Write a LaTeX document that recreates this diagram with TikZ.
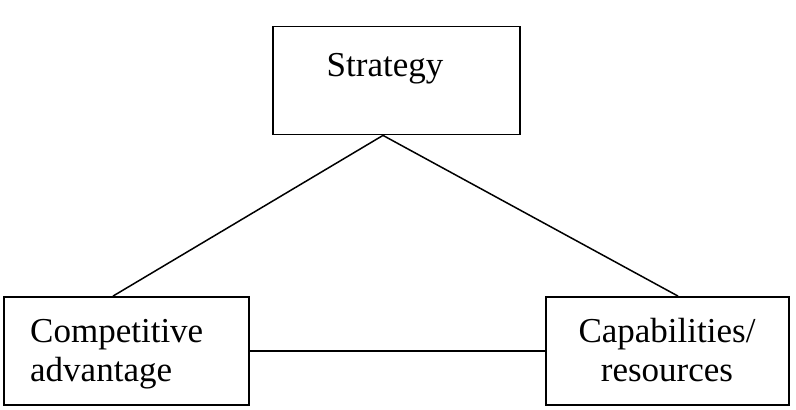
\documentclass[tikz,border=0pt]{standalone}
\usepackage{fontspec}
\setmainfont{Liberation Serif}
\usetikzlibrary{positioning,calc}

\begin{document}
\begin{tikzpicture}[
    x=1pt, y=1pt,
    box/.style={
      draw=black,
      line width=1.8pt,
      minimum width=#1,
      minimum height=108pt,
      inner sep=0pt
    },
    boxtext/.style={
      font=\fontsize{35}{39}\selectfont,
      inner sep=0pt,
      anchor=base
    },
    link/.style={
      line width=1.5pt,
      color=black
    }
  ]
  \useasboundingbox (0,0) rectangle (796,410);

  % boxes
  \node[box=247pt] (strat) at (396.5,329.5) {};
  \node[box=245pt] (comp)  at (126.5,59) {};
  \node[box=243pt] (capab) at (667.5,59) {};

  % texts (base = last line)
  \node[boxtext] (strattext) at (385,333) {Strategy};
  \node[boxtext,anchor=base west,align=left] (comptext) at (30,28)
    {Competitive\\advantage};
  \node[boxtext,align=center] (capabtext) at (667,28)
    {Capabilities/\\resources};

  % links
  \coordinate (apex) at ($(strat.south)+(-13.5,0)$);
  \draw[link] (apex) -- ($(comp.north)+(-13.5,0)$);
  \draw[link] (apex) -- ($(capab.north)+(10.5,0)$);
  \draw[link] (comp.east) -- (capab.west);

\end{tikzpicture}
\end{document}
